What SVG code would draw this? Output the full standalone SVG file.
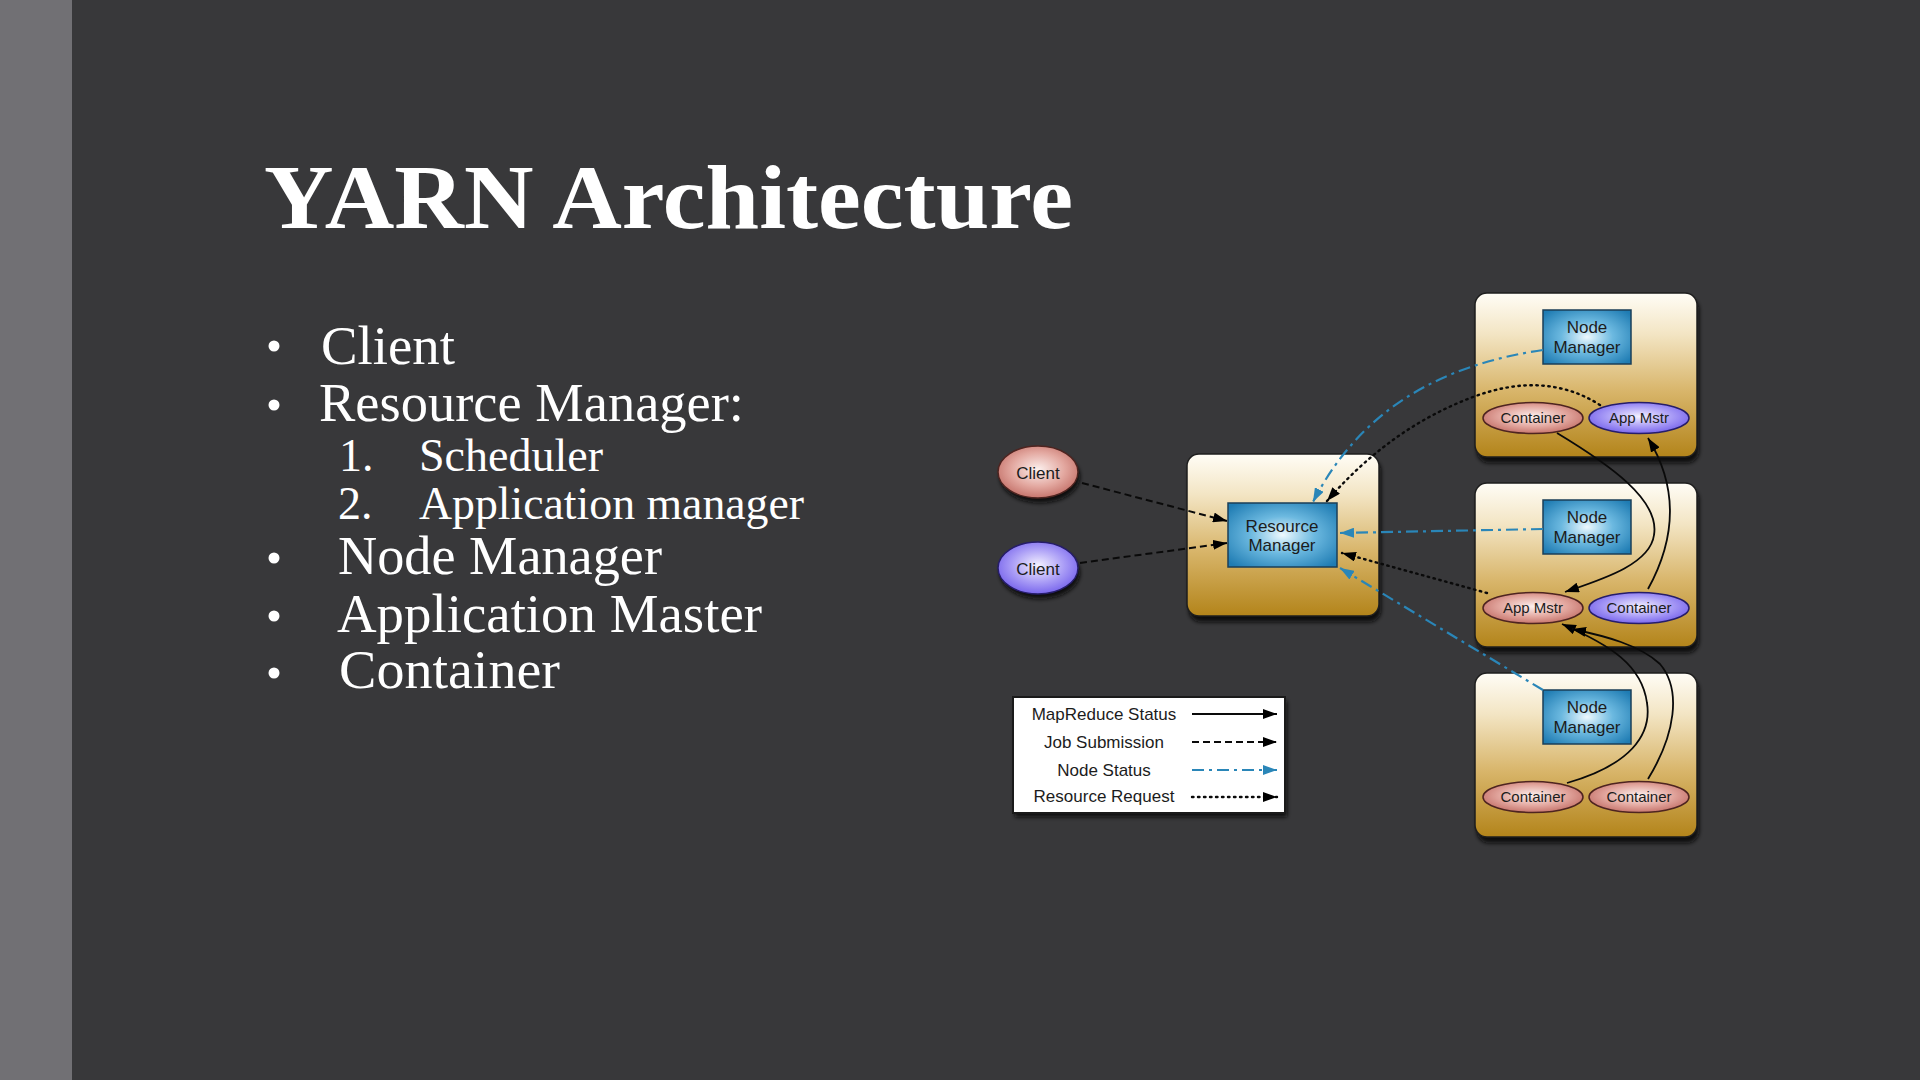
<svg xmlns="http://www.w3.org/2000/svg" width="1920" height="1080" viewBox="0 0 1920 1080">
  <defs>
    <style>
      .title { font-family: "Liberation Serif", "Times New Roman", serif; font-weight: bold; fill: #ffffff; }
      .bullet { font-family: "Liberation Serif", "Times New Roman", serif; fill: #ffffff; }
      .lbl { font-family: "Liberation Sans", Arial, sans-serif; fill: #1c1c1c; text-anchor: middle; }
      .big { font-size: 17px; }
      .small { font-size: 15px; }
      .outer { fill: url(#gOuter); stroke: #1e1e1e; stroke-width: 1.5; }
      .inner { fill: url(#gBlue); stroke: #1b3f58; stroke-width: 1.5; }
      .red { fill: url(#gRed); stroke: #4e2420; stroke-width: 1.5; }
      .purple { fill: url(#gPurple); stroke: #261d6a; stroke-width: 1.5; }
      .shadow { fill: #0c0c0c; filter: url(#blur); }
      .mr { fill: none; stroke: #0a0a0a; stroke-width: 1.8; }
      .job { fill: none; stroke: #0a0a0a; stroke-width: 2; stroke-dasharray: 7 4; }
      .ns { fill: none; stroke: #2a86b8; stroke-width: 2.2; stroke-dasharray: 12 5 3 5; }
      .rr { fill: none; stroke: #0a0a0a; stroke-width: 2.4; stroke-dasharray: 1.5 4.5; stroke-linecap: round; }
    </style>
    <filter id="blur" x="-20%" y="-20%" width="140%" height="140%">
      <feGaussianBlur stdDeviation="2"/>
    </filter>
    <linearGradient id="gOuter" x1="0" y1="0" x2="0" y2="1">
      <stop offset="0" stop-color="#fffdf6"/>
      <stop offset="0.25" stop-color="#f3e5c4"/>
      <stop offset="0.6" stop-color="#d8b56a"/>
      <stop offset="1" stop-color="#b3841a"/>
    </linearGradient>
    <radialGradient id="gBlue" cx="0.5" cy="0.5" r="0.65">
      <stop offset="0" stop-color="#eef9fe"/>
      <stop offset="0.45" stop-color="#6cb9e0"/>
      <stop offset="1" stop-color="#1f7cb3"/>
    </radialGradient>
    <radialGradient id="gRed" cx="0.5" cy="0.45" r="0.6">
      <stop offset="0" stop-color="#fcf0ee"/>
      <stop offset="0.55" stop-color="#e3a8a0"/>
      <stop offset="1" stop-color="#c06a62"/>
    </radialGradient>
    <radialGradient id="gPurple" cx="0.5" cy="0.45" r="0.6">
      <stop offset="0" stop-color="#f4f1ff"/>
      <stop offset="0.55" stop-color="#a99cf6"/>
      <stop offset="1" stop-color="#6f5bea"/>
    </radialGradient>
    <marker id="ahK" viewBox="0 0 14 10" refX="14" refY="5" markerWidth="14" markerHeight="10" orient="auto" markerUnits="userSpaceOnUse">
      <path d="M0,0 L14,5 L0,10 z" fill="#000000"/>
    </marker>
    <marker id="ahB" viewBox="0 0 14 10" refX="14" refY="5" markerWidth="14" markerHeight="10" orient="auto" markerUnits="userSpaceOnUse">
      <path d="M0,0 L14,5 L0,10 z" fill="#2a86b8"/>
    </marker>
  </defs>

  <!-- slide background -->
  <rect x="0" y="0" width="1920" height="1080" fill="#38383a"/>
  <rect x="0" y="0" width="72" height="1080" fill="#717074"/>

  <!-- heading and bullet list -->
  <text class="title" x="264" y="228" font-size="92" textLength="809" lengthAdjust="spacingAndGlyphs">YARN Architecture</text>

  <g id="bullets">
    <circle cx="274" cy="346" r="5.5" fill="#ffffff"/>
    <circle cx="274" cy="405" r="5.5" fill="#ffffff"/>
    <circle cx="274" cy="558" r="5.5" fill="#ffffff"/>
    <circle cx="274" cy="616" r="5.5" fill="#ffffff"/>
    <circle cx="274" cy="673" r="5.5" fill="#ffffff"/>
    <text class="bullet" x="321" y="364" font-size="54" textLength="134" lengthAdjust="spacingAndGlyphs">Client</text>
    <text class="bullet" x="319" y="421" font-size="54" textLength="425" lengthAdjust="spacingAndGlyphs">Resource Manager:</text>
    <text class="bullet" x="339" y="471" font-size="46">1.</text>
    <text class="bullet" x="419" y="471" font-size="46" textLength="184" lengthAdjust="spacingAndGlyphs">Scheduler</text>
    <text class="bullet" x="338" y="519" font-size="46">2.</text>
    <text class="bullet" x="419" y="519" font-size="46" textLength="385" lengthAdjust="spacingAndGlyphs">Application manager</text>
    <text class="bullet" x="338" y="574" font-size="54" textLength="324" lengthAdjust="spacingAndGlyphs">Node Manager</text>
    <text class="bullet" x="337" y="632" font-size="54" textLength="425" lengthAdjust="spacingAndGlyphs">Application Master</text>
    <text class="bullet" x="339" y="688" font-size="54" textLength="221" lengthAdjust="spacingAndGlyphs">Container</text>
  </g>

  <!-- clients -->
  <g id="client-red">
    <ellipse class="shadow" cx="1040" cy="477" rx="40" ry="26"/>
    <ellipse class="red" cx="1038" cy="472" rx="40" ry="26"/>
    <text class="lbl big" x="1038" y="479">Client</text>
  </g>
  <g id="client-blue">
    <ellipse class="shadow" cx="1040" cy="573" rx="40" ry="26"/>
    <ellipse class="purple" cx="1038" cy="568" rx="40" ry="26"/>
    <text class="lbl big" x="1038" y="575">Client</text>
  </g>

  <!-- resource manager -->
  <g id="resource-manager">
    <rect class="shadow" x="1189" y="459" width="192" height="163" rx="12"/>
    <rect class="outer" x="1187" y="454" width="192" height="162" rx="12"/>
    <rect class="inner" x="1228" y="503" width="109" height="64"/>
    <text class="lbl big" x="1282" y="532">Resource</text>
    <text class="lbl big" x="1282" y="551">Manager</text>
  </g>

  <!-- node 1 -->
  <g id="node-1">
    <rect class="shadow" x="1477" y="298" width="222" height="165" rx="12"/>
    <rect class="outer" x="1475" y="293" width="222" height="164" rx="12"/>
    <rect class="inner" x="1543" y="310" width="88" height="54"/>
    <text class="lbl big" x="1587" y="333">Node</text>
    <text class="lbl big" x="1587" y="353">Manager</text>
    <ellipse class="red" cx="1533" cy="418" rx="50" ry="15.5"/>
    <text class="lbl small" x="1533" y="423">Container</text>
    <ellipse class="purple" cx="1639" cy="418" rx="50" ry="15.5"/>
    <text class="lbl small" x="1639" y="423">App Mstr</text>
  </g>

  <!-- node 2 -->
  <g id="node-2">
    <rect class="shadow" x="1477" y="488" width="222" height="165" rx="12"/>
    <rect class="outer" x="1475" y="483" width="222" height="164" rx="12"/>
    <rect class="inner" x="1543" y="500" width="88" height="54"/>
    <text class="lbl big" x="1587" y="523">Node</text>
    <text class="lbl big" x="1587" y="543">Manager</text>
    <ellipse class="red" cx="1533" cy="608" rx="50" ry="15.5"/>
    <text class="lbl small" x="1533" y="613">App Mstr</text>
    <ellipse class="purple" cx="1639" cy="608" rx="50" ry="15.5"/>
    <text class="lbl small" x="1639" y="613">Container</text>
  </g>

  <!-- node 3 -->
  <g id="node-3">
    <rect class="shadow" x="1477" y="678" width="222" height="165" rx="12"/>
    <rect class="outer" x="1475" y="673" width="222" height="164" rx="12"/>
    <rect class="inner" x="1543" y="690" width="88" height="54"/>
    <text class="lbl big" x="1587" y="713">Node</text>
    <text class="lbl big" x="1587" y="733">Manager</text>
    <ellipse class="red" cx="1533" cy="797" rx="50" ry="15.5"/>
    <text class="lbl small" x="1533" y="802">Container</text>
    <ellipse class="red" cx="1639" cy="797" rx="50" ry="15.5"/>
    <text class="lbl small" x="1639" y="802">Container</text>
  </g>

  <!-- connectors -->
  <g id="connectors">
    <!-- job submission -->
    <path class="job" d="M1082,483 L1227,521" marker-end="url(#ahK)"/>
    <path class="job" d="M1080,563 L1227,543" marker-end="url(#ahK)"/>
    <!-- node status -->
    <path class="ns" d="M1543,350 C1440,365 1360,410 1313,502" marker-end="url(#ahB)"/>
    <path class="ns" d="M1543,529 L1340,533" marker-end="url(#ahB)"/>
    <path class="ns" d="M1543,690 L1340,568" marker-end="url(#ahB)"/>
    <!-- resource requests -->
    <path class="rr" d="M1600,405 Q1545,370 1473,397 Q1390,428 1327,501" marker-end="url(#ahK)"/>
    <path class="rr" d="M1487,593 L1342,553" marker-end="url(#ahK)"/>
    <!-- mapreduce status -->
    <path class="mr" d="M1557,433 C1610,465 1660,500 1654,535 C1650,565 1600,580 1565,592" marker-end="url(#ahK)"/>
    <path class="mr" d="M1648,589 C1675,540 1680,490 1648,438" marker-end="url(#ahK)"/>
    <path class="mr" d="M1567,783 C1630,765 1652,735 1647,703 C1642,665 1610,645 1562,624" marker-end="url(#ahK)"/>
    <path class="mr" d="M1648,779 C1675,735 1682,690 1660,664 C1640,645 1605,636 1572,629" marker-end="url(#ahK)"/>
  </g>

  <!-- legend -->
  <g id="legend">
    <rect class="shadow" x="1015" y="701" width="272" height="116"/>
    <rect x="1013" y="697" width="272" height="116" fill="#ffffff" stroke="#1a1a1a" stroke-width="2"/>
    <text class="lbl big" x="1104" y="720">MapReduce Status</text>
    <text class="lbl big" x="1104" y="748">Job Submission</text>
    <text class="lbl big" x="1104" y="776">Node Status</text>
    <text class="lbl big" x="1104" y="802">Resource Request</text>
    <path class="mr" d="M1192,714 L1277,714" marker-end="url(#ahK)"/>
    <path class="job" d="M1192,742 L1277,742" marker-end="url(#ahK)"/>
    <path class="ns" d="M1192,770 L1277,770" marker-end="url(#ahB)"/>
    <path class="rr" d="M1192,797 L1277,797" marker-end="url(#ahK)"/>
  </g>
</svg>
